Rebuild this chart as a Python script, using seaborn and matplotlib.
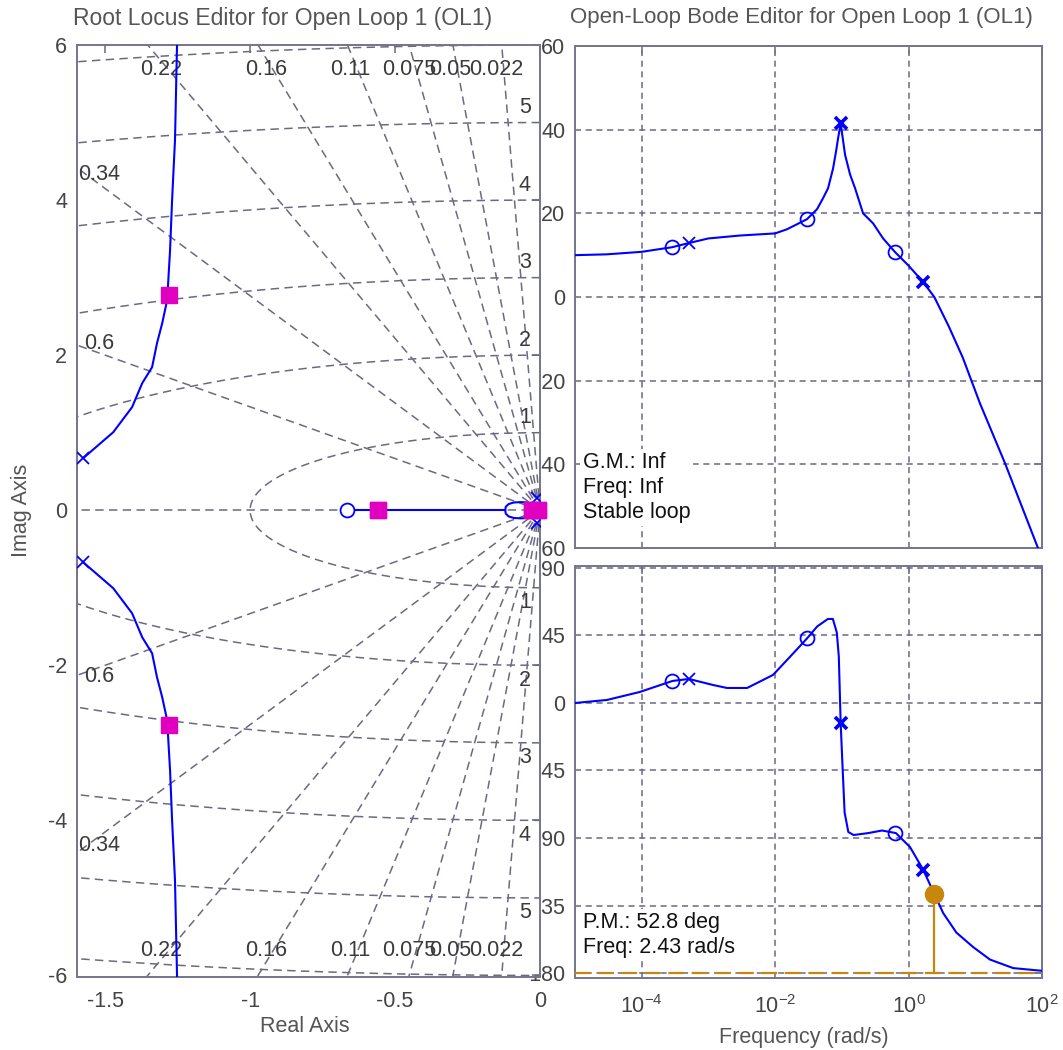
import numpy as np
import pandas as pd
import seaborn as sns
import matplotlib.pyplot as plt
from matplotlib.ticker import FormatStrFormatter

# ---- root locus data ----
# upper complex branch, the lower one is its mirror image
branch_x = [-1.576, -1.472, -1.407, -1.372, -1.338, -1.321, -1.303, -1.286, -1.276, -1.269, -1.259, -1.252, -1.25]
branch_y = [0.67, 1.006, 1.329, 1.639, 1.845, 2.155, 2.413, 2.71, 3.355, 4.0, 4.774, 6.0, 6.5]
real_branch_x = [-0.666, -0.12]
loop_x = [-0.12, -0.118, -0.108, -0.09, -0.065, -0.045]
loop_y = [0.0, 0.045, 0.08, 0.1, 0.105, 0.1]
ol_pole_x = [-1.576, -0.012]
ol_pole_y = [0.67, 0.16]
ol_zero_x = [-0.666]
cl_pole_x = [-1.279, -0.559, -0.028, -0.008]
cl_pole_y = [2.77, 0.0, 0.0, 0.0]
zetas = [0.022, 0.05, 0.075, 0.11, 0.16, 0.22, 0.34, 0.6]
wns = [1, 2, 3, 4, 5, 6]

# ---- bode data ----
mag_w = [1e-5, 3e-5, 1e-4, 2.85e-4, 5.1e-4, 1e-3, 3e-3, 1e-2, 0.0151, 0.0213, 0.03, 0.0425,
         0.0522, 0.0621, 0.0738, 0.0818, 0.0877, 0.096, 0.1117, 0.1327, 0.1578, 0.208, 0.294,
         0.415, 0.63, 1.0, 1.65, 2.43, 4.0, 6.5, 11.8, 28, 87, 100]
mag_db = [10, 10.2, 10.8, 11.9, 12.9, 14, 14.7, 15.2, 16.2, 17.4, 18.6, 21,
          23.6, 26, 30.7, 34.8, 37.9, 41.5, 34, 29.3, 26, 20, 17.6,
          14, 10.7, 7.5, 3.6, 0, -7, -14.5, -25.5, -39.8, -60, -62.5]
ph_w = [1e-5, 3e-5, 9.3e-5, 2.9e-4, 5.1e-4, 1.17e-3, 1.9e-3, 3.8e-3, 9.3e-3, 0.0186, 0.03,
        0.0427, 0.0617, 0.0733, 0.084, 0.09, 0.096, 0.103, 0.11, 0.125, 0.15, 0.25, 0.4,
        0.645, 1.05, 1.65, 2.43, 3.3, 5.2, 9.3, 16.6, 37, 100]
ph_deg = [0, 2, 7.3, 14.7, 16, 12, 10, 10, 18.7, 33, 43,
          51, 56, 56, 47, 31, -13.5, -45, -73, -86, -88, -86.7, -85,
          -86.7, -96, -111, -127.2, -140, -153, -162.7, -171, -176.7, -178.5]
zero_w = [2.85e-4, 0.03, 0.63]
zero_mag = [11.9, 18.6, 10.7]
zero_ph = [14.7, 43, -86.7]
pole_w = [5.1e-4]
pole_mag = [12.9]
pole_ph = [16]
cpole_w = [0.096, 1.65]
cpole_mag = [41.5, 3.6]
cpole_ph = [-13.5, -111]
pm_w, pm_ph = 2.43, -127.2

sns.set_theme(style="white")
plt.rcParams["font.family"] = ["Liberation Sans", "DejaVu Sans"]
plt.rcParams["axes.unicode_minus"] = False

FS = 15.5
GRID = "#6a6a80"
FRAME = "#74748c"
TXT = "#444444"
BLUE = "#0000ff"
MAG = "#e000c0"
ORANGE = "#c8860a"

fig = plt.figure(figsize=(10.63, 10.5), dpi=100)
W, H = 1063, 1050
ax_mag = fig.add_axes([575 / W, 1 - 548 / H, 467 / W, 502 / H])
ax_ph = fig.add_axes([575 / W, 1 - 978 / H, 467 / W, 412 / H])
ax_rl = fig.add_axes([77 / W, 1 - 977 / H, 463 / W, 932 / H])
ax_rl.set_zorder(5)  # hides the minus signs of the bode tick labels, as in the original


def frame(ax):
    for s in ax.spines.values():
        s.set_color(FRAME)
        s.set_linewidth(1.4)
    ax.tick_params(direction="in", length=6, width=1.2, color=FRAME, labelsize=FS,
                   labelcolor=TXT, top=True, right=True, pad=7)


# ---- root locus ----
frame(ax_rl)
dash = (0, (5.5, 3.5))
for z in zetas:
    slope = np.sqrt(1 - z ** 2) / z
    for s in (1, -1):
        ax_rl.plot([0, -10], [0, s * 10 * slope], color=GRID, lw=1.1, ls=dash, zorder=1)
theta = np.linspace(np.pi / 2, 3 * np.pi / 2, 300)
for wn in wns:
    ax_rl.plot(wn * np.cos(theta), wn * np.sin(theta), color=GRID, lw=1.1, ls=dash, zorder=1)
ax_rl.plot([-2, 0], [0, 0], color=GRID, lw=1.1, ls=dash, zorder=1)

for z in zetas:
    slope = np.sqrt(1 - z ** 2) / z
    x_top = -5.68 / slope
    if x_top > -1.52:
        lx, ly = x_top - 0.025, 5.68
    else:
        lx, ly = -1.52, 1.52 * slope + 0.12
    for s in (1, -1):
        ax_rl.text(lx, s * ly, f"{z:g}", ha="center", va="center", fontsize=FS, color="#3a3a3a", zorder=2)
for wn in wns[:-1]:
    for s in (1, -1):
        ax_rl.text(-0.052, s * (wn + 0.19), str(wn), ha="center", va="center", fontsize=FS,
                   color="#3a3a3a", zorder=2)

for s in (1, -1):
    sns.lineplot(x=branch_x, y=[s * v for v in branch_y], sort=False, estimator=None,
                 color=BLUE, lw=1.5, ax=ax_rl, zorder=3)
    sns.lineplot(x=loop_x, y=[s * v for v in loop_y], sort=False, estimator=None,
                 color=BLUE, lw=1.5, ax=ax_rl, zorder=3)
    ax_rl.plot(ol_pole_x, [s * v for v in ol_pole_y], ls="none", marker="x", ms=9, mew=1.3,
               color=BLUE, zorder=4)
    ax_rl.plot(cl_pole_x, [s * v for v in cl_pole_y], ls="none", marker="s", ms=11,
               color=MAG, mec=MAG, zorder=5, clip_on=False)
sns.lineplot(x=real_branch_x, y=[0, 0], color=BLUE, lw=1.5, ax=ax_rl, zorder=3)
ax_rl.plot(ol_zero_x, [0], ls="none", marker="o", ms=10, mfc="white", mec=BLUE, mew=1.3, zorder=4)

ax_rl.set_xlim(-1.597, 0)
ax_rl.set_ylim(-6.02, 6)
ax_rl.set_xticks([-1.5, -1, -0.5, 0])
ax_rl.set_yticks([-6, -4, -2, 0, 2, 4, 6])
ax_rl.xaxis.set_major_formatter(FormatStrFormatter("%g"))
ax_rl.yaxis.set_major_formatter(FormatStrFormatter("%g"))
ax_rl.tick_params(axis="x", pad=10)
ax_rl.set_xlabel("")
ax_rl.set_ylabel("")

# ---- bode magnitude ----
for ax in (ax_mag, ax_ph):
    frame(ax)
    ax.set_xscale("log")
    ax.set_xlim(1e-5, 1e2)
    ax.set_xticks([1e-4, 1e-2, 1e0, 1e2])
    ax.minorticks_off()
    ax.grid(True, color=GRID, ls=(0, (4, 3)), lw=1.1)

sns.lineplot(x=mag_w, y=mag_db, sort=False, estimator=None, color=BLUE, lw=1.5, ax=ax_mag, zorder=3)
ax_mag.plot(zero_w, zero_mag, ls="none", marker="o", ms=10, mfc="none", mec=BLUE, mew=1.3, zorder=4)
ax_mag.plot(pole_w, pole_mag, ls="none", marker="x", ms=8, mew=1.3, color=BLUE, zorder=4)
ax_mag.plot(cpole_w, cpole_mag, ls="none", marker="x", ms=8, mew=2.6, color=BLUE, zorder=4)
ax_mag.set_ylim(-60, 59.6)
ax_mag.set_yticks([-60, -40, -20, 0, 20, 40, 60])
ax_mag.yaxis.set_major_formatter(FormatStrFormatter("%g"))
ax_mag.tick_params(axis="x", labelbottom=False)
ax_mag.set_xlabel("")
ax_mag.set_ylabel("")
ax_mag.text(0.017, 0.12, "G.M.: Inf\nFreq: Inf\nStable loop", transform=ax_mag.transAxes,
            ha="left", va="center", fontsize=FS, color="#111111", linespacing=1.25,
            bbox=dict(facecolor="white", edgecolor="none", pad=2), zorder=6)

# ---- bode phase ----
ax_ph.axhline(-180, color=ORANGE, lw=1.6, ls=(0, (7, 3.5)), zorder=3)
sns.lineplot(x=ph_w, y=ph_deg, sort=False, estimator=None, color=BLUE, lw=1.5, ax=ax_ph, zorder=3)
ax_ph.plot(zero_w, zero_ph, ls="none", marker="o", ms=10, mfc="none", mec=BLUE, mew=1.3, zorder=4)
ax_ph.plot(pole_w, pole_ph, ls="none", marker="x", ms=8, mew=1.3, color=BLUE, zorder=4)
ax_ph.plot(cpole_w, cpole_ph, ls="none", marker="x", ms=8, mew=2.6, color=BLUE, zorder=4)
ax_ph.plot([pm_w, pm_w], [-180, pm_ph], color=ORANGE, lw=1.6, zorder=4)
ax_ph.plot([pm_w], [pm_ph], ls="none", marker="o", ms=13, color=ORANGE, zorder=5)
ax_ph.set_ylim(-183.3, 91.3)
ax_ph.set_yticks([-180, -135, -90, -45, 0, 45, 90])
ax_ph.yaxis.set_major_formatter(FormatStrFormatter("%g"))
ax_ph.tick_params(axis="x", pad=12)
ax_ph.set_xlabel("")
ax_ph.set_ylabel("")
ax_ph.text(0.017, 0.105, "P.M.: 52.8 deg\nFreq: 2.43 rad/s", transform=ax_ph.transAxes,
           ha="left", va="center", fontsize=FS, color="#111111", linespacing=1.25,
           bbox=dict(facecolor="white", edgecolor="none", pad=2), zorder=6)

# ---- titles and axis labels ----
fig.text(283 / W, 1 - 18 / H, "Root Locus Editor for Open Loop 1 (OL1)", ha="center", va="center",
         fontsize=16.5, color="#555555")
fig.text(801 / W, 1 - 18 / H, "Open-Loop Bode Editor for Open Loop 1 (OL1)", ha="center", va="center",
         fontsize=16, color="#555555")
fig.text(22 / W, 1 - 510 / H, "Imag Axis", rotation=90, ha="center", va="center", fontsize=FS, color="#555555")
fig.text(305 / W, 1 - 1027 / H, "Real Axis", ha="center", va="center", fontsize=FS, color="#555555")
fig.text(804 / W, 1 - 1037 / H, "Frequency (rad/s)", ha="center", va="center", fontsize=FS, color="#555555")

fig.savefig("out.png", dpi=100, facecolor="white")
